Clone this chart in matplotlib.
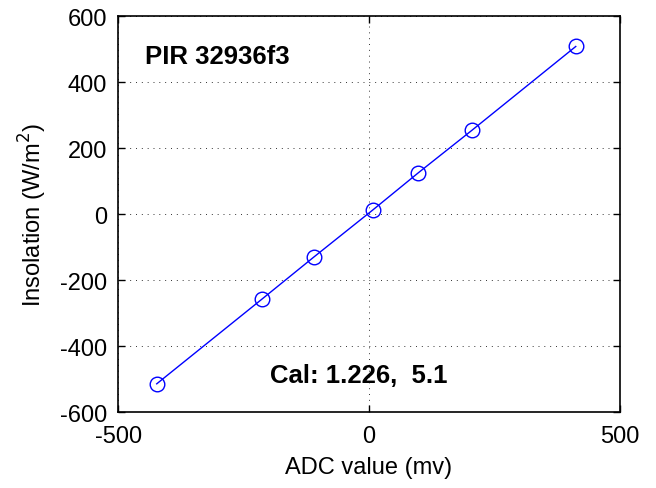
"""
PIR センサ校正プロット — ADC値と日射量の関係
"""

import matplotlib
matplotlib.use('Agg')
import matplotlib.pyplot as plt

# データ
adc_mv = [-423, -213, -110, 7, 98, 205, 412]
insolation = [-514, -257, -130, 12, 125, 254, 508]

x_ticks = [-500, 0, 500]
y_ticks = [-600, -400, -200, 0, 200, 400, 600]

sensor_label = 'PIR 32936f3'
cal_label = 'Cal: 1.226,  5.1'

plt.rcParams['font.family'] = ['Liberation Sans', 'DejaVu Sans']
plt.rcParams['axes.unicode_minus'] = False

fig = plt.figure(figsize=(6.56, 4.89), dpi=100)
ax = fig.add_axes([0.180, 0.155, 0.765, 0.810])

ax.plot(adc_mv, insolation, color='blue', linewidth=1.0,
        marker='o', markersize=10.5, markerfacecolor='none',
        markeredgecolor='blue', markeredgewidth=1.0)

ax.set_xlim(-500, 500)
ax.set_ylim(-600, 600)
ax.set_xticks(x_ticks)
ax.set_yticks(y_ticks)
ax.tick_params(direction='in', length=5, width=1, labelsize=17,
               top=True, right=True)
ax.tick_params(axis='x', pad=9)
ax.tick_params(axis='y', pad=8)
for spine in ax.spines.values():
    spine.set_linewidth(1.2)

ax.grid(True, linestyle=(0, (1, 5)), color='black', linewidth=0.7, alpha=0.8)

ax.set_xlabel('ADC value (mv)', fontsize=17, labelpad=7)
ax.set_ylabel('Insolation (W/m$^2$)', fontsize=17, labelpad=8)

ax.text(-446, 478, sensor_label, fontsize=18.5, fontweight='bold',
        va='center', ha='left')
ax.text(-197, -486, cal_label, fontsize=18.5, fontweight='bold',
        va='center', ha='left')

fig.savefig('out.png', dpi=100)
plt.close(fig)
